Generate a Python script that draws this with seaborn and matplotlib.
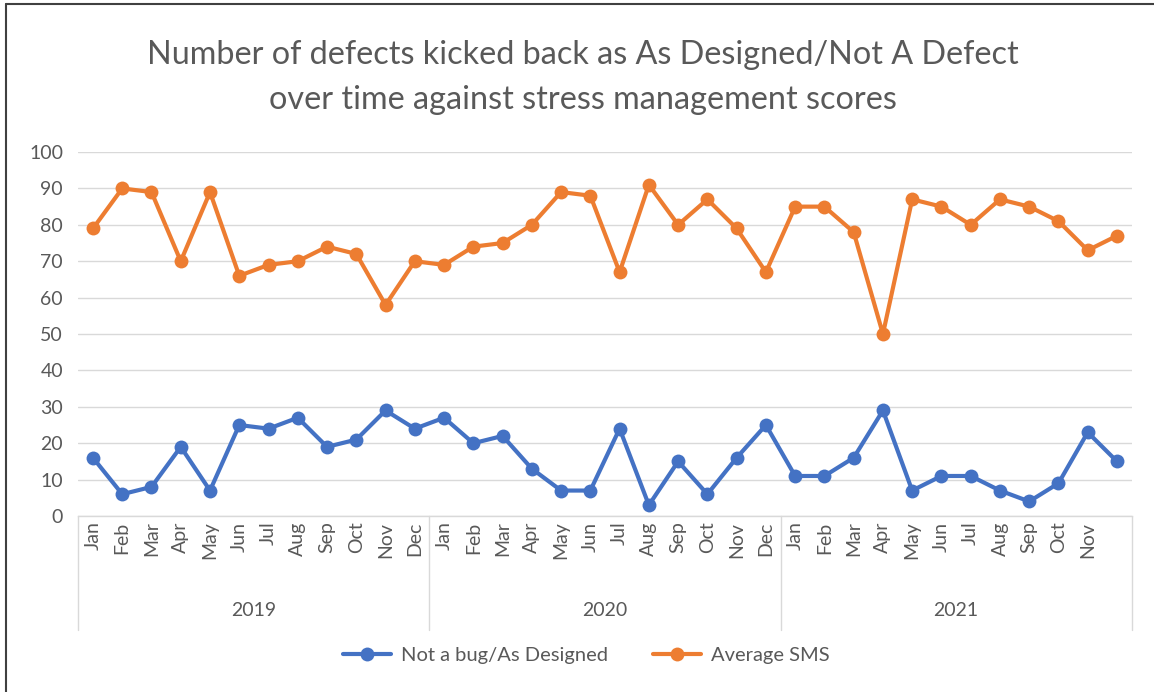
import pandas as pd
import matplotlib.pyplot as plt
import seaborn as sns
from matplotlib.lines import Line2D

# values
months = ['Jan', 'Feb', 'Mar', 'Apr', 'May', 'Jun', 'Jul', 'Aug', 'Sep', 'Oct', 'Nov', 'Dec']
years = ['2019', '2020', '2021']
not_a_bug = [16, 6, 8, 19, 7, 25, 24, 27, 19, 21, 29, 24,
             27, 20, 22, 13, 7, 7, 24, 3, 15, 6, 16, 25,
             11, 11, 16, 29, 7, 11, 11, 7, 4, 9, 23, 15]
avg_sms = [79, 90, 89, 70, 89, 66, 69, 70, 74, 72, 58, 70,
           69, 74, 75, 80, 89, 88, 67, 91, 80, 87, 79, 67,
           85, 85, 78, 50, 87, 85, 80, 87, 85, 81, 73, 77]
month_labels = months * 3
month_labels[-1] = ''  # last label is not shown in the source chart

series_names = ['Not a bug/As Designed', 'Average SMS']
title = 'Number of defects kicked back as As Designed/Not A Defect\nover time against stress management scores'

grey = '#595959'
grid_col = '#d9d9d9'
colors = ['#4472C4', '#ED7D31']

df = pd.DataFrame({'idx': range(len(not_a_bug)),
                   series_names[0]: not_a_bug,
                   series_names[1]: avg_sms})
df = df.melt(id_vars='idx', var_name='series', value_name='value')

sns.set_theme(style='white')
plt.rcParams['font.family'] = ['Lato', 'DejaVu Sans']

fig = plt.figure(figsize=(11.54, 6.92), dpi=100)
ax = fig.add_axes([0.0679, 0.2543, 0.9127, 0.526])

sns.lineplot(data=df, x='idx', y='value', hue='series', hue_order=series_names,
             palette=colors, marker='o', markersize=10, linewidth=3,
             markeredgewidth=0, ax=ax)

n = len(not_a_bug)
ax.set_xlim(-0.5, n - 0.5)
ax.set_ylim(0, 100)
ax.set_yticks(range(0, 101, 10))
ax.set_xticks(range(n))
ax.set_xticklabels(month_labels, rotation=90, fontsize=14, color=grey)
ax.tick_params(axis='x', length=0, pad=4)
ax.tick_params(axis='y', length=0, pad=11, labelsize=14, labelcolor=grey)
ax.set_xlabel('')
ax.set_ylabel('')
ax.yaxis.grid(True, color=grid_col, lw=1)
ax.xaxis.grid(False)
for s in ['top', 'right', 'left']:
    ax.spines[s].set_visible(False)
ax.spines['bottom'].set_color(grid_col)
ax.spines['bottom'].set_linewidth(1)

# multi-level category axis: group dividers and year labels
trans = ax.get_xaxis_transform()
for b in [-0.5, 11.5, 23.5, 35.5]:
    ax.plot([b, b], [0, -0.313], transform=trans, color=grid_col, lw=1, clip_on=False)
for i, yr in enumerate(years):
    ax.text(i * 12 + 5.5, -0.26, yr, transform=trans, ha='center', va='center',
            fontsize=14, color=grey)

handles, labels = ax.get_legend_handles_labels()
ax.get_legend().remove()
fig.legend(handles, labels, loc='center', bbox_to_anchor=(0.508, 0.053), ncol=2,
           frameon=False, fontsize=14.5, labelcolor=grey, handlelength=2.4,
           columnspacing=2.2, handletextpad=0.5)

fig.text(0.505, 0.888, title, ha='center', va='center', fontsize=23.3, color=grey,
         linespacing=1.6)

# outer frame of the screenshot
fig.add_artist(Line2D([6 / 1154, 6 / 1154], [0, 688 / 692], color='#404040', lw=1.5))
fig.add_artist(Line2D([6 / 1154, 1], [688 / 692, 688 / 692], color='#404040', lw=1.5))

fig.savefig('out.png', dpi=100)
